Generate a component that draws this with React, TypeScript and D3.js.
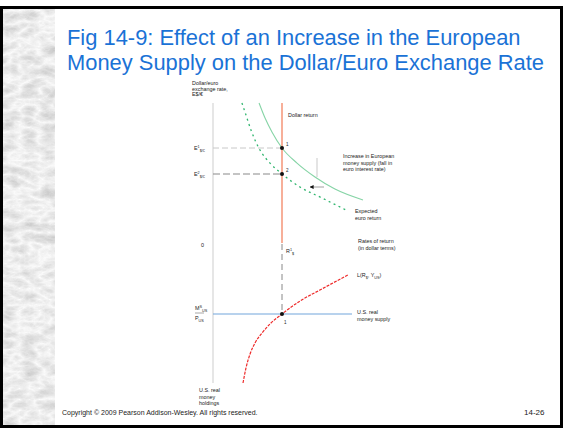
import React from "react";
import * as d3 from "d3";

// ---- Data (abstract units: x = rate of return 0..100; top y = exchange rate 0..100; bottom y = real money holdings 0..100 downward)
const originalEuroReturn: [number, number][] = [
  [30.7, 100], [34.7, 89.4], [39.3, 79.6], [46, 68.3], [56, 57.7], [68, 47.9], [81.3, 39.4], [100, 31.7],
];
const newEuroReturn: [number, number][] = [
  [19.3, 100], [22, 91.5], [25.3, 81], [31.3, 66.9], [38, 57.7], [46, 50], [58, 40.8], [72.7, 33.1], [90, 23.9],
];
const moneyDemand: [number, number][] = [
  [20, 100], [22, 89.1], [24.7, 79], [28, 71], [32.7, 63.8], [38, 57.2], [46, 50], [58, 40.6], [71.3, 32.6], [90, 21.7],
];
const dollarReturnR1 = 46;
const exchangeRates = [68.3, 50]; // E1, E2
const exchangeLabels = ["1", "2"];
const realMoneySupply = 50;
const moneySupplyEnd = 92.7;

const titleLines = [
  "Fig 14-9: Effect of an Increase in the European",
  "Money Supply on the Dollar/Euro Exchange Rate",
];

const W = 563;
const H = 429;
const FONT = "Arial, 'Liberation Sans', Helvetica, sans-serif";

export default function App() {
  const x = d3.scaleLinear().domain([0, 100]).range([213, 363]);
  const yTop = d3.scaleLinear().domain([0, 100]).range([245, 103]);
  const yBot = d3.scaleLinear().domain([0, 100]).range([245, 383]);

  const lineTop = d3
    .line<[number, number]>()
    .x((d) => x(d[0]))
    .y((d) => yTop(d[1]))
    .curve(d3.curveMonotoneX);
  const lineBot = d3
    .line<[number, number]>()
    .x((d) => x(d[0]))
    .y((d) => yBot(d[1]))
    .curve(d3.curveMonotoneX);

  const xR = x(dollarReturnR1);
  const fs = 5.4;

  return (
    <div style={{ position: "absolute", left: 0, top: 0 }}>
      <svg width={W} height={H} viewBox={`0 0 ${W} ${H}`} style={{ display: "block" }}>
        <defs>
          <filter id="marble" x="0" y="0" width="100%" height="100%">
            <feTurbulence type="turbulence" baseFrequency="0.05 0.09" numOctaves="4" seed="11" result="t" />
            <feColorMatrix
              in="t"
              type="matrix"
              values="-0.45 0 0 0 0.98  -0.45 0 0 0 0.98  -0.45 0 0 0 0.98  0 0 0 0 1"
            />
          </filter>
          <clipPath id="marbleClip">
            <rect x={3} y={9} width={52} height={416} />
          </clipPath>
          <marker id="ah" viewBox="0 0 10 10" refX="9" refY="5" markerWidth="5" markerHeight="5" orient="auto">
            <path d="M0,0 L10,5 L0,10 Z" fill="#111" />
          </marker>
        </defs>
        <rect x={0} y={0} width={W} height={H} fill="#fff" />
        {/* marble strip */}
        <g clipPath="url(#marbleClip)">
          <rect x={3} y={9} width={52} height={416} fill="#e6e6e6" filter="url(#marble)" />
        </g>
        {/* frame */}
        <rect x={1.5} y={7.5} width={560} height={419} fill="none" stroke="#000" strokeWidth={3} />

        {/* title */}
        {titleLines.map((t, i) => (
          <text key={i} x={67} y={45 + i * 25} fontFamily={FONT} fontSize={21.9} fill="#1a72d6">
            {t}
          </text>
        ))}

        {/* vertical axis */}
        <line x1={x(0)} x2={x(0)} y1={yTop(100)} y2={yBot(100)} stroke="#dcdcdc" strokeWidth={1.4} />

        {/* exchange rate guides */}
        <line x1={x(0)} x2={xR} y1={yTop(exchangeRates[0])} y2={yTop(exchangeRates[0])} stroke="#c8c8c8" strokeWidth={1} strokeDasharray="6,3" />
        <line x1={x(0)} x2={xR} y1={yTop(exchangeRates[1])} y2={yTop(exchangeRates[1])} stroke="#8a8a8a" strokeWidth={1.1} strokeDasharray="7,3" />
        {/* vertical dashed to money market */}
        <line x1={xR} x2={xR} y1={yTop(0) - 1} y2={yBot(realMoneySupply)} stroke="#888" strokeWidth={1} strokeDasharray="6,4" />

        {/* expected euro return curves */}
        <path d={lineTop(originalEuroReturn) || ""} fill="none" stroke="#86d4a6" strokeWidth={1.1} />
        <path d={lineTop(newEuroReturn) || ""} fill="none" stroke="#2fb56e" strokeWidth={1.3} strokeDasharray="2,3.5" />

        {/* dollar return */}
        <line x1={xR} x2={xR} y1={yTop(100)} y2={yTop(0) - 2} stroke="#f27a55" strokeWidth={1.2} />

        {/* money supply */}
        <line x1={x(0)} x2={x(moneySupplyEnd)} y1={yBot(realMoneySupply)} y2={yBot(realMoneySupply)} stroke="#72a6dc" strokeWidth={1.2} />
        {/* money demand */}
        <path d={lineBot(moneyDemand) || ""} fill="none" stroke="#ee2a2a" strokeWidth={1.2} strokeDasharray="3,1.2" />

        {/* equilibrium points */}
        {exchangeRates.map((e, i) => (
          <circle key={i} cx={xR} cy={yTop(e)} r={2} fill="#111" />
        ))}
        <circle cx={xR} cy={yBot(realMoneySupply)} r={2} fill="#111" />

        {/* arrow & leader */}
        <line x1={317} x2={317} y1={158} y2={177} stroke="#bbb" strokeWidth={0.8} />
        <line x1={324} x2={310} y1={187} y2={187} stroke="#888" strokeWidth={0.8} markerEnd="url(#ah)" />

        <g fontFamily={FONT} fontSize={fs} fill="#222">
          {/* y axis label */}
          <text x={192} y={85}>Dollar/euro</text>
          <text x={192} y={90.5}>exchange rate,</text>
          <text x={192} y={96}>E$/€</text>

          <text x={288} y={117}>Dollar return</text>

          {exchangeRates.map((e, i) => (
            <text key={i} x={194} y={yTop(e) + 2}>
              E<tspan fontSize={fs * 0.7} dy={-2}>{i === 1 ? "2" : "1"}</tspan>
              <tspan fontSize={fs * 0.7} dy={3.5}>$/€</tspan>
            </text>
          ))}
          {exchangeRates.map((e, i) => (
            <text key={"l" + i} x={xR + 4} y={yTop(e) - 2} fontSize={4.5}>
              {exchangeLabels[i]}
            </text>
          ))}

          <text x={343} y={158}>Increase in European</text>
          <text x={343} y={164.5}>money supply (fall in</text>
          <text x={343} y={171}>euro interest rate)</text>

          <text x={355} y={213}>Expected</text>
          <text x={355} y={219.5}>euro return</text>

          <text x={358} y={243}>Rates of return</text>
          <text x={358} y={249.5}>(in dollar terms)</text>

          <text x={201} y={247}>0</text>
          <text x={xR + 4} y={253}>
            R<tspan fontSize={fs * 0.7} dy={-2}>1</tspan>
            <tspan fontSize={fs * 0.7} dy={3.5}>$</tspan>
          </text>

          <text x={357} y={277}>
            L(R<tspan fontSize={fs * 0.7} dy={1.5}>$</tspan>
            <tspan dy={-1.5}>, Y</tspan>
            <tspan fontSize={fs * 0.7} dy={1.5}>US</tspan>
            <tspan dy={-1.5}>)</tspan>
          </text>

          <text x={357} y={314}>U.S. real</text>
          <text x={357} y={320.5}>money supply</text>

          <text x={195} y={310}>
            M<tspan fontSize={fs * 0.7} dy={-2}>S</tspan>
            <tspan fontSize={fs * 0.7} dy={3.5}>US</tspan>
          </text>
          <line x1={195} x2={204} y1={313} y2={313} stroke="#222" strokeWidth={0.4} />
          <text x={195} y={320}>
            P<tspan fontSize={fs * 0.7} dy={1.5}>US</tspan>
          </text>

          <text x={xR + 2} y={324} fontSize={4.5}>1</text>

          <text x={199} y={392}>U.S. real</text>
          <text x={199} y={398.5}>money</text>
          <text x={199} y={405}>holdings</text>
        </g>

        {/* footer */}
        <text x={62} y={415} fontFamily={FONT} fontSize={7} fill="#222">
          Copyright © 2009 Pearson Addison-Wesley. All rights reserved.
        </text>
        <text x={524} y={415} fontFamily={FONT} fontSize={8} fill="#222">
          14-26
        </text>
      </svg>
    </div>
  );
}
